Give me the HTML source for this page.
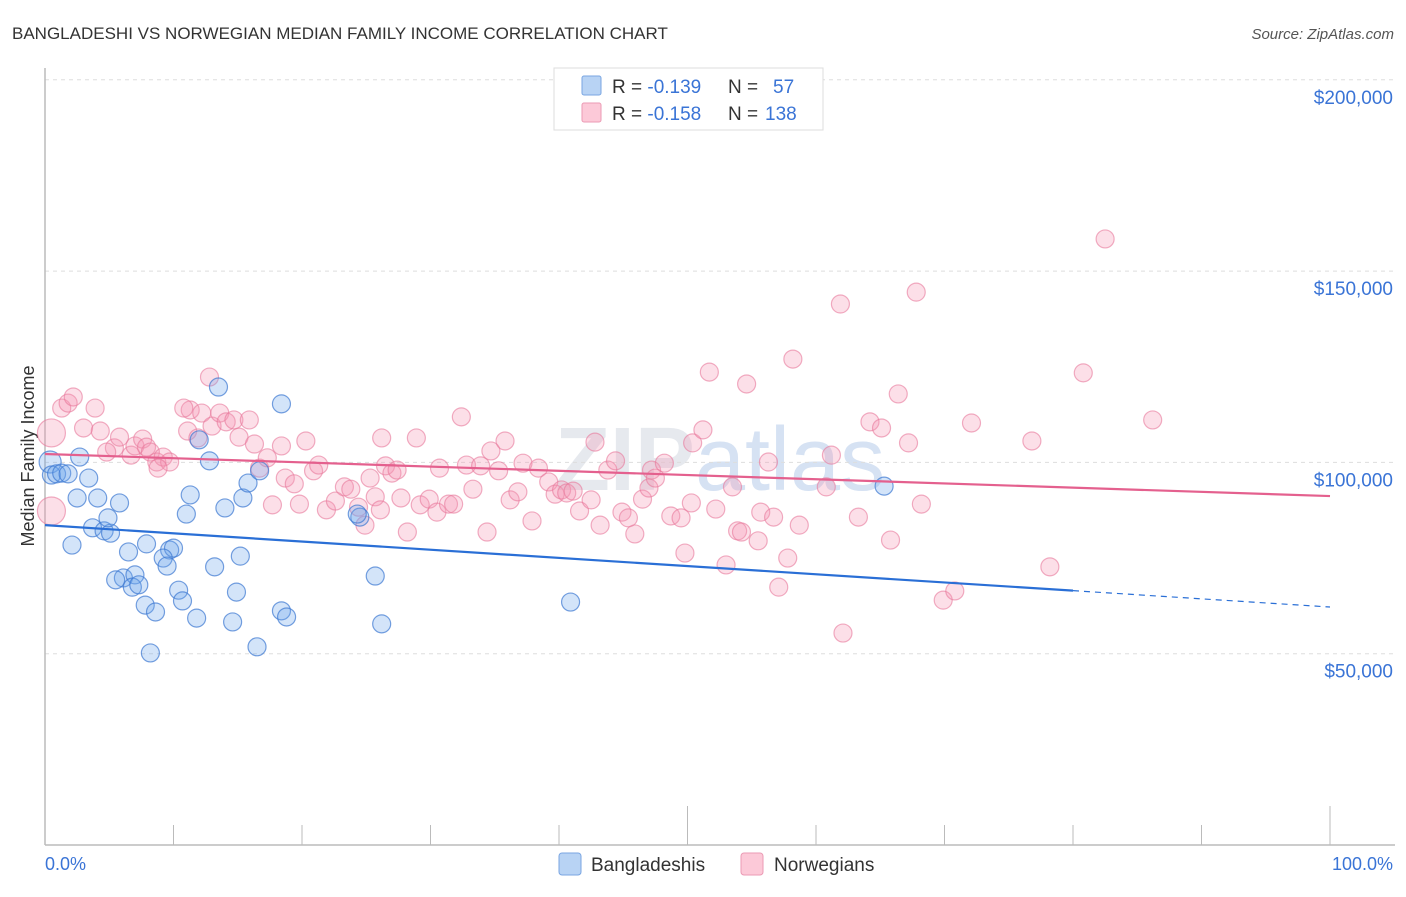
<!DOCTYPE html>
<html><head><meta charset="utf-8"><style>
body{margin:0;background:#fff;font-family:"Liberation Sans",sans-serif;}
svg text{font-family:"Liberation Sans",sans-serif;}
</style></head><body>
<svg id="chart" width="1406" height="892" viewBox="0 0 1406 892" xmlns="http://www.w3.org/2000/svg">
<text x="12" y="39" font-size="17" fill="#333">BANGLADESHI VS NORWEGIAN MEDIAN FAMILY INCOME CORRELATION CHART</text>
<text x="1394" y="39" font-size="15" fill="#555" text-anchor="end" font-style="italic">Source: ZipAtlas.com</text>
<text x="720" y="490" font-size="90" fill="#e6e9ee" text-anchor="middle" font-weight="bold">ZIP<tspan fill="#d6e2f3" font-weight="normal">atlas</tspan></text>
<g id="grid"></g>
<line x1="45" y1="68" x2="45" y2="845" stroke="#bbb" stroke-width="1.5"/>
<line x1="45" y1="845" x2="1395" y2="845" stroke="#bbb" stroke-width="1.5"/>
<g id="xticks"></g>
<text transform="translate(34,456) rotate(-90)" font-size="18" fill="#333" text-anchor="middle">Median Family Income</text>
<g id="points"></g>
<g id="trends"></g>
<text x="45" y="870" font-size="18" fill="#3a74d6">0.0%</text>
<text x="1393" y="870" font-size="18" fill="#3a74d6" text-anchor="end">100.0%</text>
<g>
<rect x="559" y="853" width="22" height="22" rx="3" fill="#b8d3f4" stroke="#7aa6e2"/>
<text x="591" y="871" font-size="19" fill="#333">Bangladeshis</text>
<rect x="741" y="853" width="22" height="22" rx="3" fill="#fcc9d8" stroke="#eb9ab4"/>
<text x="774" y="871" font-size="19" fill="#333">Norwegians</text>
</g>
<g>
<rect x="554" y="68" width="269" height="62" fill="#fff" stroke="#ddd"/>
<rect x="582" y="76" width="19" height="19" rx="2" fill="#b8d3f4" stroke="#7aa6e2"/>
<rect x="582" y="103" width="19" height="19" rx="2" fill="#fcc9d8" stroke="#eb9ab4"/>
<text x="612" y="93" font-size="19" fill="#333">R = <tspan fill="#3a74d6">-0.139</tspan><tspan x="728">N = </tspan><tspan x="773" fill="#3a74d6">57</tspan></text>
<text x="612" y="120" font-size="19" fill="#333">R = <tspan fill="#3a74d6">-0.158</tspan><tspan x="728">N = </tspan><tspan x="765" fill="#3a74d6">138</tspan></text>
</g>
</svg>
<script>
const yTicks=[50000,100000,150000,200000];
const yTickLabels=["$50,000","$100,000","$150,000","$200,000"];
const xTicks=[0,10,20,30,40,50,60,70,80,90,100];
const blueX=[0.4,0.5,0.9,1.3,1.8,2.7,3.4,2.5,4.1,5.8,3.7,4.6,5.1,4.9,2.1,6.5,7.9,9.7,10.0,9.2,9.5,6.1,7.0,5.5,6.8,7.3,7.8,8.6,10.4,10.7,11.8,8.2,12.0,12.8,11.3,11.0,14.0,15.4,15.8,16.7,13.5,18.4,13.2,15.2,14.9,14.6,18.4,18.8,16.5,24.5,24.3,25.7,26.2,40.9,65.3];
const blueY=[100.1,96.7,97.0,97.2,97.0,101.4,95.9,90.7,90.7,89.4,82.9,82.1,81.5,85.5,78.4,76.6,78.7,77.1,77.6,75.0,72.9,69.8,70.6,69.3,67.4,68.0,62.7,60.9,66.6,63.8,59.3,50.2,105.9,100.4,91.5,86.5,88.1,90.7,94.6,97.8,119.7,115.3,72.7,75.5,66.1,58.3,61.2,59.6,51.8,85.7,86.5,70.3,57.8,63.5,93.8];
const pinkX=[0.5,0.5,1.3,1.8,2.2,3.9,3.0,4.3,5.4,5.8,4.8,6.7,7.0,7.6,7.9,8.2,8.7,9.2,9.7,8.8,12.8,11.3,10.8,12.2,11.1,11.9,13.0,13.6,14.1,14.7,15.1,15.9,16.3,16.7,17.3,18.4,17.7,18.7,19.4,19.8,20.3,20.9,21.3,21.9,22.6,23.3,23.8,24.4,24.9,25.3,25.7,26.1,26.5,27.0,27.4,28.2,27.7,29.2,29.9,30.5,31.4,31.8,26.2,28.9,30.7,32.4,32.8,33.3,33.9,34.4,34.7,35.3,35.8,36.2,36.8,37.2,37.9,38.4,39.2,39.7,40.2,40.6,41.1,41.6,42.5,42.8,43.2,43.8,44.4,44.9,45.4,45.9,46.5,47.0,47.2,47.5,48.2,48.7,49.5,49.8,50.3,50.4,51.2,51.7,52.2,53.0,53.5,53.9,54.2,54.6,55.5,55.7,56.3,56.7,57.1,57.8,58.2,58.7,61.2,60.8,61.9,62.1,63.3,64.2,65.1,65.8,66.4,67.2,67.8,68.2,69.9,70.8,72.1,76.8,78.2,80.8,82.5,86.2];
const pinkY=[107.7,87.3,114.2,115.5,117.1,114.2,109.0,108.2,103.8,106.6,102.7,101.9,104.3,106.1,104.0,102.7,100.1,101.4,100.1,98.5,122.3,113.7,114.2,112.9,108.2,106.4,109.5,112.9,110.6,111.1,106.6,111.1,104.8,98.5,101.2,104.3,88.9,95.9,94.4,89.1,105.6,97.8,99.3,87.6,89.9,93.6,93.0,88.3,83.6,95.9,91.0,87.6,99.1,97.2,98.0,81.8,90.7,88.9,90.4,87.0,89.1,89.1,106.4,106.4,98.5,111.9,99.3,93.0,99.1,81.8,103.0,97.8,105.6,90.2,92.3,99.8,84.7,98.5,94.9,91.7,92.8,92.0,92.5,87.3,90.2,105.3,83.6,98.0,100.4,87.0,85.5,81.3,90.4,93.3,98.0,95.9,99.8,86.0,85.5,76.3,89.4,105.1,108.5,123.6,87.8,73.2,93.6,82.1,81.8,120.5,79.5,87.0,100.1,85.7,67.4,75.0,127.0,83.6,101.9,93.6,141.4,55.4,85.7,110.6,109.0,79.7,117.9,105.1,144.5,89.1,64.0,66.4,110.3,105.6,72.7,123.4,158.4,111.1];
const blueTrend=[83.6,62.2];
const pinkTrend=[102.2,91.2];
const blueSolidEnd=80;
const NS="http://www.w3.org/2000/svg";
function xs(p){return 45+p*12.85;}
function ys(v){return 845-v*191.3/50000;}
function mk(tag,attrs,parent){const e=document.createElementNS(NS,tag);for(const k in attrs)e.setAttribute(k,attrs[k]);parent.appendChild(e);return e;}
const grid=document.getElementById('grid');
yTicks.forEach((t,i)=>{
 const l=mk('line',{x1:45,x2:1395,y1:ys(t),y2:ys(t),stroke:'#ddd','stroke-dasharray':'4,4'},grid);
 
 
 const tx=mk('text',{x:1393,y:ys(t)+24,'font-size':19,fill:'#3a74d6','text-anchor':'end'},grid);
 tx.textContent=yTickLabels[i];
 
 
});
const xt=document.getElementById('xticks');
xTicks.forEach(t=>{
 const tall=(t===50||t===100);
 const l=mk('line',{x1:xs(t),x2:xs(t),y1:tall?806:825,y2:845,stroke:'#bbb'},xt);
 
 
});
const pts=document.getElementById('points');
pinkX.forEach((x,i)=>{
 const c=mk('circle',{cx:xs(x),cy:ys(pinkY[i]*1000),r:i<2?14:9,fill:'rgba(244,150,180,0.3)',stroke:'rgba(232,120,155,0.6)','stroke-width':1.2},pts);
 
 
});
blueX.forEach((x,i)=>{
 const c=mk('circle',{cx:xs(x),cy:ys(blueY[i]*1000),r:i===0?11:9,fill:'rgba(110,165,235,0.3)',stroke:'rgba(60,120,210,0.7)','stroke-width':1.2},pts);
 
 
});
const tr=document.getElementById('trends');
function trendY(a,p){return a[0]+(a[1]-a[0])*p/100;}
const bl=mk('line',{x1:xs(0),y1:ys(trendY(blueTrend,0)*1000),x2:xs(blueSolidEnd),y2:ys(trendY(blueTrend,blueSolidEnd)*1000),stroke:'#2a6fd6','stroke-width':2.2},tr);


const bd=mk('line',{x1:xs(blueSolidEnd),y1:ys(trendY(blueTrend,blueSolidEnd)*1000),x2:xs(100),y2:ys(trendY(blueTrend,100)*1000),stroke:'#2a6fd6','stroke-width':1.2,'stroke-dasharray':'6,5'},tr);


const pl=mk('line',{x1:xs(0),y1:ys(trendY(pinkTrend,0)*1000),x2:xs(100),y2:ys(trendY(pinkTrend,100)*1000),stroke:'#e4608e','stroke-width':2.2},tr);


</script>
</body></html>
